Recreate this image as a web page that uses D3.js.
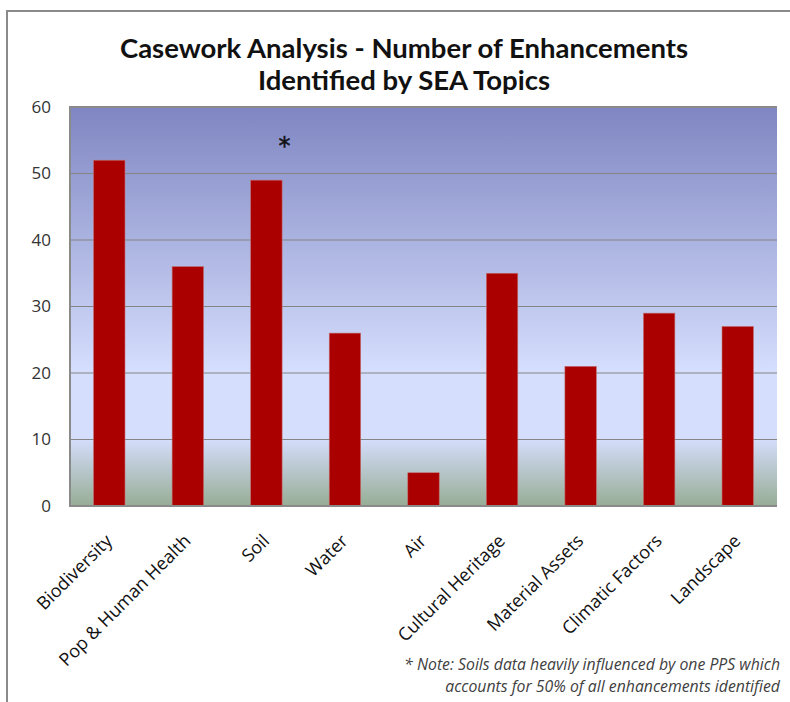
<!DOCTYPE html>
<html>
<head>
<meta charset="utf-8">
<script src="https://cdn.jsdelivr.net/npm/d3@7"></script>
<style>
  body { margin: 0; background: #fff; }
  svg { display: block; }
  .ytick text { font-family: "Open Sans", sans-serif; font-size: 17px; fill: #333; }
  .xtick text { font-family: "Open Sans", sans-serif; font-size: 18px; fill: #111; }
</style>
</head>
<body>
<svg id="chart" width="790" height="702"></svg>
<script>
// Casework analysis — enhancements per SEA topic
const topics = ["Biodiversity", "Pop & Human Health", "Soil", "Water", "Air",
                "Cultural Heritage", "Material Assets", "Climatic Factors", "Landscape"];
const counts = [52, 36, 49, 26, 5, 35, 21, 29, 27];
const yTicks = [0, 10, 20, 30, 40, 50, 60];
const titleLines = ["Casework Analysis - Number of Enhancements", "Identified by SEA Topics"];
const noteLines = ["* Note: Soils data heavily influenced by one PPS which",
                   "accounts for 50% of all enhancements identified"];
const flagged = "Soil"; // topic marked with an asterisk

const svg = d3.select("#chart");
const m = { top: 107, right: 13, bottom: 196, left: 70 };
const W = 790 - m.left - m.right;
const H = 702 - m.top - m.bottom;

// outer chart frame (left + top only visible)
svg.append("path")
    .attr("d", "M7,702 V11 H790")
    .attr("fill", "none").attr("stroke", "#8a8a8a").attr("stroke-width", 2);

// background gradient of the plot area
const defs = svg.append("defs");
const grad = defs.append("linearGradient").attr("id", "bg")
    .attr("x1", 0).attr("y1", 0).attr("x2", 0).attr("y2", 1);
[[0, "#7f86c2"], [0.66, "#d5defd"], [0.83, "#d5defd"], [1, "#97ad95"]]
    .forEach(([o, c]) => grad.append("stop").attr("offset", o).attr("stop-color", c));

const g = svg.append("g").attr("transform", `translate(${m.left},${m.top})`);

const x = d3.scaleBand().domain(topics).range([0, W]).paddingInner(0.6).paddingOuter(0.3);
const y = d3.scaleLinear().domain([0, 60]).range([H, 0]);

g.append("rect").attr("width", W).attr("height", H).attr("fill", "url(#bg)");

// gridlines
g.append("g").selectAll("line").data(yTicks.filter(d => d > 0 && d < 60))
    .join("line")
    .attr("x1", 0).attr("x2", W)
    .attr("y1", d => y(d)).attr("y2", d => y(d))
    .attr("stroke", "#858585").attr("stroke-width", 1);

// bars
g.append("g").selectAll("rect").data(topics)
    .join("rect")
    .attr("x", d => x(d))
    .attr("y", (d, i) => y(counts[i]))
    .attr("width", x.bandwidth())
    .attr("height", (d, i) => H - y(counts[i]))
    .attr("fill", "#ab0000")
    .attr("stroke", "#c07070").attr("stroke-width", 0.6);

// plot border: left, top and bottom
g.append("path")
    .attr("d", `M${W},0 H0 V${H} H${W}`)
    .attr("fill", "none").attr("stroke", "#8a8a8a").attr("stroke-width", 2);

// y axis
const yAxis = g.append("g").attr("class", "ytick")
    .call(d3.axisLeft(y).tickValues(yTicks).tickSize(0).tickPadding(19));
yAxis.select(".domain").remove();

// x axis labels, rotated
const xAxis = g.append("g").attr("class", "xtick").attr("transform", `translate(0,${H})`)
    .call(d3.axisBottom(x).tickSize(0).tickPadding(0));
xAxis.select(".domain").remove();
xAxis.selectAll("text")
    .attr("text-anchor", "end")
    .attr("dy", 0)
    .attr("transform", "translate(4,36) rotate(-45)");

// asterisk over flagged bar
g.append("text")
    .attr("x", x(flagged) + x.bandwidth() / 2 + 18)
    .attr("y", y(counts[topics.indexOf(flagged)]) - 26)
    .attr("text-anchor", "middle")
    .attr("font-family", "DejaVu Sans, sans-serif").attr("font-size", 24)
    .attr("fill", "#111").attr("stroke", "#111").attr("stroke-width", 0.5)
    .text("*");

// title
svg.append("g").selectAll("text").data(titleLines)
    .join("text")
    .attr("x", 404).attr("y", (d, i) => 58 + i * 32)
    .attr("text-anchor", "middle")
    .attr("font-family", "Lato, sans-serif").attr("font-weight", "bold")
    .attr("font-size", 27.5).attr("fill", "#111")
    .text(d => d);

// note
svg.append("g").selectAll("text").data(noteLines)
    .join("text")
    .attr("x", 780).attr("y", (d, i) => 670 + i * 22)
    .attr("text-anchor", "end")
    .attr("font-family", "Open Sans, sans-serif").attr("font-style", "italic")
    .attr("font-size", 15.8).attr("fill", "#404040")
    .text(d => d);
</script>
</body>
</html>
